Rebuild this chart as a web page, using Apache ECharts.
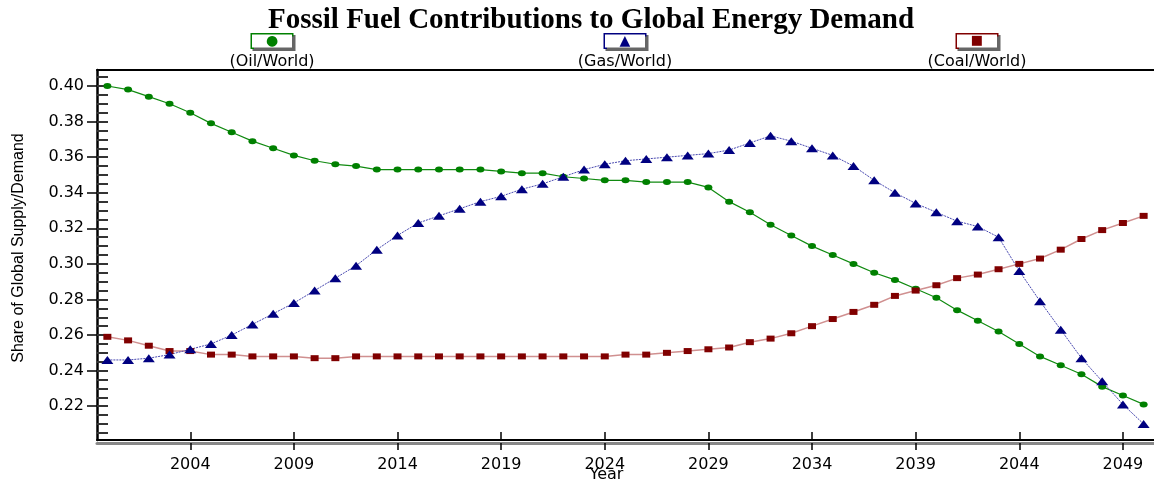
<!DOCTYPE html>
<html>
<head>
<meta charset="utf-8">
<title>Fossil Fuel Contributions to Global Energy Demand</title>
<script src="https://cdn.jsdelivr.net/npm/echarts@6/dist/echarts.min.js"></script>
<style>
  html, body { margin: 0; padding: 0; background: #fff; }
  #chart { width: 1154px; height: 482px; }
</style>
</head>
<body>
<div id="chart"></div>
<script>
// data
var years = [
  2000, 2001, 2002, 2003, 2004, 2005, 2006, 2007, 2008, 2009,
  2010, 2011, 2012, 2013, 2014, 2015, 2016, 2017, 2018, 2019,
  2020, 2021, 2022, 2023, 2024, 2025, 2026, 2027, 2028, 2029,
  2030, 2031, 2032, 2033, 2034, 2035, 2036, 2037, 2038, 2039,
  2040, 2041, 2042, 2043, 2044, 2045, 2046, 2047, 2048, 2049,
  2050
]
var oilShare = [
  0.400, 0.398, 0.394, 0.390, 0.385, 0.379, 0.374, 0.369, 0.365, 0.361,
  0.358, 0.356, 0.355, 0.353, 0.353, 0.353, 0.353, 0.353, 0.353, 0.352,
  0.351, 0.351, 0.349, 0.348, 0.347, 0.347, 0.346, 0.346, 0.346, 0.343,
  0.335, 0.329, 0.322, 0.316, 0.310, 0.305, 0.300, 0.295, 0.291, 0.286,
  0.281, 0.274, 0.268, 0.262, 0.255, 0.248, 0.243, 0.238, 0.231, 0.226,
  0.221
]
var gasShare = [
  0.246, 0.246, 0.247, 0.249, 0.252, 0.255, 0.260, 0.266, 0.272, 0.278,
  0.285, 0.292, 0.299, 0.308, 0.316, 0.323, 0.327, 0.331, 0.335, 0.338,
  0.342, 0.345, 0.349, 0.353, 0.356, 0.358, 0.359, 0.360, 0.361, 0.362,
  0.364, 0.368, 0.372, 0.369, 0.365, 0.361, 0.355, 0.347, 0.340, 0.334,
  0.329, 0.324, 0.321, 0.315, 0.296, 0.279, 0.263, 0.247, 0.234, 0.221,
  0.210
]
var coalShare = [
  0.259, 0.257, 0.254, 0.251, 0.251, 0.249, 0.249, 0.248, 0.248, 0.248,
  0.247, 0.247, 0.248, 0.248, 0.248, 0.248, 0.248, 0.248, 0.248, 0.248,
  0.248, 0.248, 0.248, 0.248, 0.248, 0.249, 0.249, 0.250, 0.251, 0.252,
  0.253, 0.256, 0.258, 0.261, 0.265, 0.269, 0.273, 0.277, 0.282, 0.285,
  0.288, 0.292, 0.294, 0.297, 0.300, 0.303, 0.308, 0.314, 0.319, 0.323,
  0.327
]
var xTicks = [2004, 2009, 2014, 2019, 2024, 2029, 2034, 2039, 2044, 2049]
var yTicks = [0.22, 0.24, 0.26, 0.28, 0.30, 0.32, 0.34, 0.36, 0.38, 0.40]
var yMinorTicks = [
  0.205, 0.21, 0.215, 0.225, 0.23, 0.235, 0.245, 0.25, 0.255,
  0.265, 0.27, 0.275, 0.285, 0.29, 0.295, 0.305, 0.31, 0.315,
  0.325, 0.33, 0.335, 0.345, 0.35, 0.355, 0.365, 0.37, 0.375,
  0.385, 0.39, 0.395, 0.405
]

var X_MIN = 1999.5
var X_MAX = 2050.5
var Y_MIN = 0.201
var Y_MAX = 0.409

function pairs(vals) {
  return years.map(function(y, i) {
    return [y, vals[i]]
  })
}

var tickFont = 'DejaVu Sans'

var legendRich = {
  oil: {
    width: 40, height: 13, align: 'center', lineHeight: 19,
    borderColor: '#008000', borderWidth: 1.5, backgroundColor: '#fff',
    shadowColor: '#666', shadowOffsetX: 2, shadowOffsetY: 2,
    color: '#008000', fontSize: 14, fontFamily: tickFont
  },
  gas: {
    width: 40, height: 13, align: 'center', lineHeight: 19,
    borderColor: '#000080', borderWidth: 1.5, backgroundColor: '#fff',
    shadowColor: '#666', shadowOffsetX: 2, shadowOffsetY: 2,
    color: '#000080', fontSize: 14, fontFamily: tickFont
  },
  coal: {
    width: 40, height: 13, align: 'center', lineHeight: 19,
    borderColor: '#800000', borderWidth: 1.5, backgroundColor: '#fff',
    shadowColor: '#666', shadowOffsetX: 2, shadowOffsetY: 2,
    color: '#800000', fontSize: 13, fontFamily: tickFont
  },
  t: {
    width: 140, align: 'center', lineHeight: 23,
    fontFamily: tickFont, fontSize: 16, color: '#000'
  }
}

function legendFor(name, key, mark, center) {
  return {
    data: [name],
    left: center - 75,
    top: 33,
    icon: 'none',
    itemWidth: 0,
    itemHeight: 0,
    padding: 0,
    selectedMode: false,
    formatter: function(n) {
      return '{' + key + '|' + mark + '}\n{t|' + n + '}'
    },
    textStyle: { rich: legendRich }
  }
}

var chart = echarts.init(document.getElementById('chart'), null, { renderer: 'canvas' })

chart.setOption({
  animation: false,
  backgroundColor: '#fff',
  title: {
    text: 'Fossil Fuel Contributions to Global Energy Demand',
    left: 268,
    top: 0,
    padding: [6, 0, 0, 0],
    textStyle: {
      fontFamily: 'Liberation Serif',
      fontWeight: 'bold',
      fontSize: 29,
      color: '#000'
    }
  },
  legend: [
    legendFor('(Oil/World)', 'oil', '\u25CF', 272),
    legendFor('(Gas/World)', 'gas', '\u25B2', 625),
    legendFor('(Coal/World)', 'coal', '\u25A0', 977)
  ],
  grid: { left: 97, right: 0, top: 70, bottom: 42, outerBoundsMode: 'none', containLabel: false },
  xAxis: [
    {
      type: 'value',
      min: X_MIN,
      max: X_MAX,
      position: 'bottom',
      name: 'Year',
      nameLocation: 'middle',
      nameGap: 27,
      nameMoveOverlap: false,
      nameTextStyle: {
        fontFamily: tickFont, fontSize: 16, color: '#000',
        padding: [0, 38, 0, 0]
      },
      axisLine: { show: true, lineStyle: { color: '#000', width: 2 } },
      axisTick: {
        show: true, inside: true, length: 8, customValues: xTicks,
        lineStyle: { color: '#000', width: 1.5 }
      },
      axisLabel: {
        customValues: xTicks, margin: 17,
        fontFamily: tickFont, fontSize: 16, color: '#000',
        formatter: function(v) { return String(v) }
      },
      splitLine: { show: false }
    },
    {
      // grey shadow under the axis line, with the outside part of the ticks
      type: 'value',
      min: X_MIN,
      max: X_MAX,
      position: 'bottom',
      offset: 3,
      axisLine: { show: true, lineStyle: { color: '#888', width: 3 } },
      axisTick: {
        show: true, length: 7, customValues: xTicks,
        lineStyle: { color: '#000', width: 1.5 }
      },
      axisLabel: { show: false },
      splitLine: { show: false }
    },
    {
      // frame line on top
      type: 'value',
      min: X_MIN,
      max: X_MAX,
      position: 'top',
      axisLine: { show: true, lineStyle: { color: '#000', width: 2 } },
      axisTick: { show: false },
      axisLabel: { show: false },
      splitLine: { show: false }
    }
  ],
  yAxis: [
    {
      type: 'value',
      min: Y_MIN,
      max: Y_MAX,
      position: 'left',
      name: 'Share of Global Supply/Demand',
      nameLocation: 'middle',
      nameGap: 70,
      nameRotate: 90,
      nameMoveOverlap: false,
      nameTextStyle: {
        fontFamily: 'Liberation Sans', fontSize: 16, color: '#000',
        padding: [0, 0, 0, 14]
      },
      axisLine: { show: true, lineStyle: { color: '#000', width: 2.5 } },
      axisTick: {
        show: true, length: 10, customValues: yTicks,
        lineStyle: { color: '#000', width: 1.5 }
      },
      axisLabel: {
        customValues: yTicks, margin: 13,
        fontFamily: tickFont, fontSize: 16, color: '#000',
        formatter: function(v) { return v.toFixed(2) }
      },
      splitLine: { show: false }
    },
    {
      // inner ticks, every 0.005
      type: 'value',
      min: Y_MIN,
      max: Y_MAX,
      position: 'left',
      axisLine: { show: false },
      axisTick: {
        show: true, inside: true, length: 11,
        customValues: yTicks.concat(yMinorTicks),
        lineStyle: { color: '#333', width: 2 }
      },
      axisLabel: { show: false },
      splitLine: { show: false }
    }
  ],
  series: [
    {
      name: '(Oil/World)',
      type: 'line',
      data: pairs(oilShare),
      symbol: 'circle',
      symbolSize: [8, 6],
      showAllSymbol: true,
      itemStyle: { color: '#008000' },
      lineStyle: { color: '#108a10', width: 1.2 }
    },
    {
      name: '(Coal/World)',
      type: 'line',
      data: pairs(coalShare),
      symbol: 'rect',
      symbolSize: [8, 6],
      showAllSymbol: true,
      itemStyle: { color: '#800000' },
      lineStyle: { color: '#d09090', width: 1.5 }
    },
    {
      name: '(Gas/World)',
      type: 'line',
      data: pairs(gasShare),
      symbol: 'triangle',
      symbolSize: [12, 8],
      showAllSymbol: true,
      itemStyle: { color: '#000080' },
      lineStyle: { color: '#4848b0', width: 1, type: [2, 1] }
    }
  ]
})
</script>
</body>
</html>
